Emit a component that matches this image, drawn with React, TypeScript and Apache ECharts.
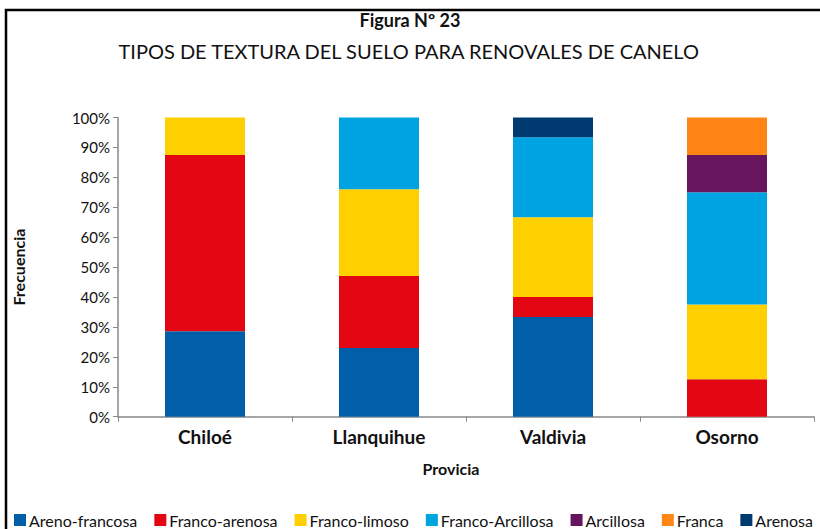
import React, { useEffect, useRef } from "react";
import * as echarts from "echarts";

const categories = ["Chiloé", "Llanquihue", "Valdivia", "Osorno"];
const seriesNames = [
  "Areno-francosa",
  "Franco-arenosa",
  "Franco-limoso",
  "Franco-Arcillosa",
  "Arcillosa",
  "Franca",
  "Arenosa",
];
const arenoFrancosa = [28.6, 23, 33.3, 0];
const francoArenosa = [58.9, 24, 6.7, 12.5];
const francoLimoso = [12.5, 29, 26.7, 25];
const francoArcillosa = [0, 24, 26.7, 37.5];
const arcillosa = [0, 0, 0, 12.5];
const franca = [0, 0, 0, 12.5];
const arenosa = [0, 0, 6.6, 0];
const seriesValues = [arenoFrancosa, francoArenosa, francoLimoso, francoArcillosa, arcillosa, franca, arenosa];
const colors = ["#005FA8", "#E30613", "#FFD000", "#00A3E2", "#67155E", "#FF8614", "#003A70"];
const yTicks = [0, 10, 20, 30, 40, 50, 60, 70, 80, 90, 100];

const FONT = "Lato, 'Open Sans', sans-serif";

export default function App() {
  const ref = useRef<HTMLDivElement>(null);
  useEffect(() => {
    const chart = echarts.init(ref.current!, null, { renderer: "svg" });
    chart.setOption({
      animation: false,
      backgroundColor: "#ffffff",
      textStyle: { fontFamily: FONT },
      graphic: [
        {
          type: "rect",
          shape: { x: 6, y: 10, width: 830, height: 540 },
          style: { fill: "none", stroke: "#000", lineWidth: 2.5 },
          silent: true,
        },
        {
          type: "text",
          left: "center",
          top: 11,
          style: { text: "Figura Nº 23", font: `bold 18px ${FONT}`, fill: "#111" },
        },
        {
          type: "text",
          left: "center",
          top: 41,
          style: { text: "TIPOS DE TEXTURA DEL SUELO PARA RENOVALES DE CANELO", font: `20px ${FONT}`, fill: "#111" },
        },
        {
          type: "text",
          x: 451,
          y: 468,
          style: {
            text: "Provicia",
            font: `bold 16px ${FONT}`,
            fill: "#111",
            align: "center",
            verticalAlign: "middle",
          },
        },
      ],
      legend: {
        data: seriesNames,
        left: 14,
        top: 512,
        padding: 0,
        itemWidth: 12,
        itemHeight: 12,
        itemGap: 17,
        icon: "rect",
        textStyle: { fontSize: 16, color: "#111", fontFamily: FONT, padding: [0, 0, 0, -2] },
      },
      grid: { left: 118, right: 6, top: 117.5, bottom: 112.3, containLabel: false },
      xAxis: {
        type: "category",
        data: categories,
        axisLine: { lineStyle: { color: "#888", width: 1.5 } },
        axisTick: { show: true, length: 5, lineStyle: { color: "#888" } },
        axisLabel: { fontWeight: "bold", fontSize: 19, color: "#111", margin: 10 },
      },
      yAxis: {
        type: "value",
        min: 0,
        max: 100,
        interval: 10,
        name: "Frecuencia",
        nameLocation: "middle",
        nameGap: 92,
        nameTextStyle: { fontWeight: "bold", fontSize: 16, color: "#111" },
        axisLine: { show: true, lineStyle: { color: "#888", width: 1.5 } },
        axisTick: { show: true, length: 5, lineStyle: { color: "#888" } },
        splitLine: { show: false },
        axisLabel: {
          fontSize: 15,
          color: "#111",
          margin: 8,
          formatter: (v: number) => (yTicks.includes(v) ? `${v}%` : ""),
        },
      },
      series: seriesNames.map((name, i) => ({
        name,
        type: "bar",
        stack: "total",
        barWidth: 80,
        itemStyle: { color: colors[i] },
        data: seriesValues[i].map((v) => (v === 0 ? null : v)),
      })),
    });
    return () => chart.dispose();
  }, []);
  return (
    <div
      ref={ref}
      style={{ position: "absolute", left: 0, top: 0, width: 820, height: 529 }}
    />
  );
}
